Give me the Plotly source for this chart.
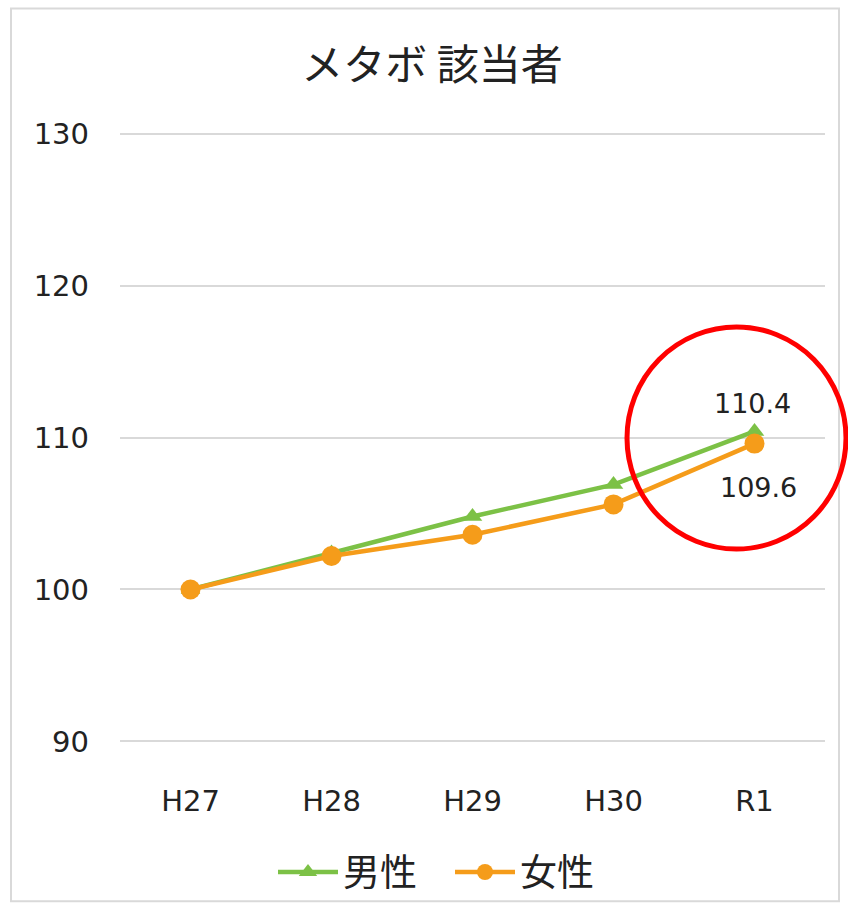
import plotly.graph_objects as go

categories = ["H27", "H28", "H29", "H30", "R1"]
male = [100, 102.4, 104.8, 106.9, 110.4]
female = [100, 102.2, 103.6, 105.6, 109.6]
title_text = "メタボ 該当者"
y_ticks = [90, 100, 110, 120, 130]

W, H = 848, 915
L, R, T, B = 120, 23, 131.5, 167.5
pw, ph = W - L - R, H - T - B

def px_x(p):
    return (p - L) / pw

def px_y(p):
    return (H - B - p) / ph

font = "DejaVu Sans, Noto Sans CJK JP, sans-serif"
cjk = "Noto Sans CJK JP, sans-serif"
green = "#7cc146"
orange = "#f59c1a"

fig = go.Figure()
fig.add_trace(go.Scatter(
    x=categories, y=male, name="男性", mode="lines+markers",
    line=dict(color=green, width=4.5),
    marker=dict(symbol="triangle-up", size=17, color=green),
))
fig.add_trace(go.Scatter(
    x=categories, y=female, name="女性", mode="lines+markers",
    line=dict(color=orange, width=4.5),
    marker=dict(symbol="circle", size=20, color=orange),
))

annotations = [
    dict(x=categories[-1], y=male[-1], text=f"{male[-1]:.1f}", showarrow=False,
         yshift=28, xshift=-2, font=dict(size=27, family=font, color="#222")),
    dict(x=categories[-1], y=female[-1], text=f"{female[-1]:.1f}", showarrow=False,
         yshift=-44, xshift=4, font=dict(size=27, family=font, color="#222")),
]

shapes = [
    dict(type="rect", xref="paper", yref="paper",
         x0=px_x(11), x1=px_x(839), y0=px_y(907), y1=px_y(7),
         line=dict(color="#d9d9d9", width=2), fillcolor="rgba(0,0,0,0)", layer="below"),
    dict(type="circle", xref="paper", yref="paper",
         x0=px_x(627), x1=px_x(846), y0=px_y(552), y1=px_y(328),
         line=dict(color="#ff0000", width=5)),
]

fig.update_layout(
    width=W, height=H,
    margin=dict(l=L, r=R, t=T, b=B),
    paper_bgcolor="white", plot_bgcolor="white",
    font=dict(family=font, color="#222"),
    title=dict(text=title_text, x=px_x(432), xref="paper", xanchor="center",
               y=1 - 65 / H, yanchor="middle",
               font=dict(size=42, family=cjk, color="#222")),
    xaxis=dict(type="category", range=[-0.5, 4.5], showgrid=False,
               showline=False, ticks="", tickfont=dict(size=29, family=font, color="#222"),
               ticklabelstandoff=38),
    yaxis=dict(range=[89.9, 130.1], tickvals=y_ticks, showgrid=True,
               gridcolor="#d9d9d9", gridwidth=1.5, zeroline=False, showline=False,
               tickfont=dict(size=29, family=font, color="#222"), ticklabelstandoff=30),
    legend=dict(orientation="h", x=px_x(450), xanchor="center", y=px_y(878), yanchor="middle",
                font=dict(size=37, family=cjk, color="#222"), itemwidth=60,
                entrywidth=102, entrywidthmode="pixels", bgcolor="rgba(0,0,0,0)"),
    showlegend=True,
    shapes=shapes,
    annotations=annotations,
)

fig.write_html("out.html")
